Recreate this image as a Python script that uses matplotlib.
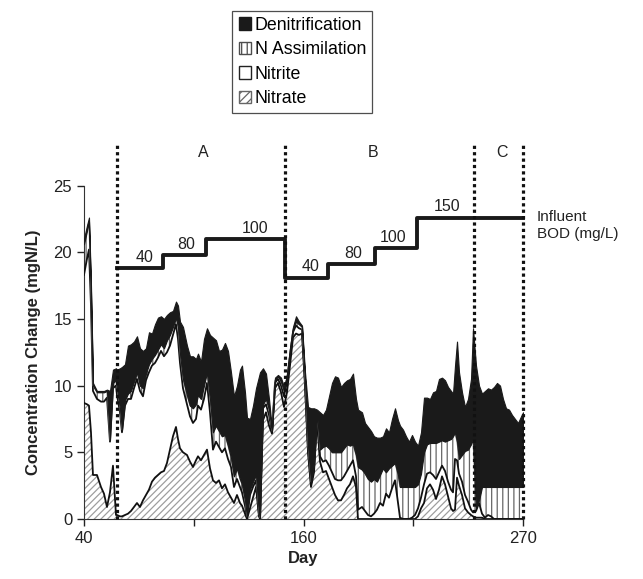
import numpy as np
import matplotlib.pyplot as plt
from matplotlib.patches import Patch

plt.rcParams['font.family'] = ['Liberation Sans', 'DejaVu Sans']
plt.rcParams['hatch.linewidth'] = 0.9

# position along the run (axis spans 0..439, labelled day 40 / 160 / 270)
run_pos = [0, 3, 5, 7, 9, 13, 17, 20, 23, 26, 29, 32, 33, 36, 38, 41, 44, 47, 50, 53,
           56, 59, 62, 65, 68, 71, 74, 77, 80, 83, 86, 89, 92, 94, 96, 99, 103, 106, 109, 112,
           114, 117, 120, 123, 126, 129, 132, 135, 138, 141, 144, 147, 150, 153, 156, 158, 161, 163, 166, 169,
           172, 175, 176, 179, 182, 185, 188, 191, 194, 197, 200, 203, 206, 209, 212, 215, 218, 221, 224, 227,
           230, 233, 236, 239, 242, 245, 248, 251, 254, 257, 260, 263, 266, 269, 272, 274, 278, 281, 284, 287,
           290, 293, 296, 299, 302, 305, 308, 311, 314, 316, 319, 322, 325, 328, 331, 334, 337, 340, 343, 346,
           349, 352, 355, 358, 361, 364, 367, 369, 371, 373, 375, 378, 381, 384, 387, 389, 392, 395, 398, 401,
           404, 407, 410, 413, 416, 419, 422, 425, 428, 431, 434, 437, 439]

# cumulative levels (mgN/L) of the stacked series
nitrate_lvl = [8.7, 8.6, 8.5, 6.5, 3.3, 3.3, 2.4, 1.9, 0.9, 2.0, 4.0, 0.3, 0.3, 0.2, 0.2, 0.3, 0.4, 0.6, 0.9, 1.2,
               0.9, 1.4, 1.8, 2.2, 2.8, 3.1, 3.3, 3.5, 3.6, 4.2, 5.2, 6.2, 6.9, 6.0, 5.3, 5.0, 4.8, 4.3, 3.9, 4.4,
               4.7, 4.4, 4.8, 5.2, 3.8, 2.9, 2.7, 2.9, 2.3, 2.6, 2.0, 1.6, 1.2, 1.8, 1.2, 1.0, 0.4, 0.0, 0.8, 1.6,
               2.4, 0.2, 0.0, 7.4, 8.0, 7.0, 6.4, 9.8, 10.2, 9.5, 8.4, 9.5, 11.5, 13.6, 13.9, 13.8, 13.9, 10.0, 5.0, 2.4,
               3.5, 7.4, 4.3, 3.5, 3.6, 3.0, 2.4, 1.8, 1.4, 1.4, 1.8, 2.3, 2.6, 3.2, 2.4, 0.0, 0.0, 0.0, 0.0, 0.0,
               0.0, 0.0, 0.0, 0.0, 0.0, 0.0, 0.0, 0.0, 0.0, 0.0, 0.0, 0.0, 0.0, 0.0, 0.0, 0.2, 0.8, 1.2, 2.3, 2.6,
               2.2, 1.5, 2.2, 3.2, 2.6, 1.7, 0.8, 0.6, 0.7, 3.1, 2.5, 1.8, 0.8, 0.5, 0.3, 0.2, 0.1, 0.1, 0.1, 0.0,
               0.0, 0.0, 0.0, 0.0, 0.0, 0.0, 0.0, 0.0, 0.0, 0.0, 0.0, 0.0, 0.0]
nitrite_lvl = [18.3, 19.5, 20.2, 16.0, 9.6, 9.0, 8.8, 8.8, 9.1, 5.8, 9.8, 10.0, 9.3, 8.0, 6.5, 8.5, 9.0, 9.0, 9.8, 10.5,
               9.6, 9.2, 10.4, 11.0, 11.5, 11.7, 12.1, 12.6, 12.2, 12.5, 13.0, 13.8, 14.6, 13.5, 11.7, 9.8, 8.6, 7.7, 7.2, 7.5,
               8.5, 8.2, 9.0, 10.2, 8.0, 5.2, 5.8, 5.4, 5.0, 5.3, 4.5, 3.9, 2.4, 3.0, 2.4, 2.0, 1.0, 0.1, 1.8, 2.4,
               2.9, 0.3, 0.1, 8.3, 8.6, 7.8, 6.5, 10.2, 10.5, 10.0, 9.2, 10.3, 12.2, 14.0, 14.5, 14.3, 14.2, 10.3, 5.3, 2.6,
               3.8, 7.7, 4.7, 4.3, 4.4, 4.0, 3.5, 3.0, 2.9, 2.9, 3.2, 3.6, 4.0, 4.4, 3.2, 0.7, 0.9, 0.6, 0.3, 0.2,
               0.4, 0.7, 1.2, 1.0, 1.9, 1.6, 2.3, 2.9, 1.2, 0.1, 0.0, 0.0, 0.0, 0.1, 0.3, 0.8, 1.6, 2.6, 3.4, 3.5,
               3.3, 3.0, 3.5, 4.0, 3.6, 2.8, 2.2, 2.0, 4.5, 4.4, 3.4, 2.8, 1.8, 1.3, 0.7, 0.5, 0.6, 1.2, 0.4, 0.1,
               0.3, 0.2, 0.0, 0.0, 0.0, 0.0, 0.0, 0.0, 0.0, 0.0, 0.0, 0.0, 0.0]
assim_lvl = [20.6, 21.6, 22.3, 17.0, 10.0, 9.5, 9.5, 9.5, 9.6, 5.9, 10.2, 10.4, 9.8, 8.3, 6.7, 8.9, 9.4, 9.6, 10.3, 11.0,
             10.0, 9.8, 10.9, 11.6, 12.0, 12.3, 12.7, 13.1, 12.8, 13.4, 13.8, 14.4, 15.1, 14.4, 12.4, 10.5, 9.3, 8.5, 8.3, 8.6,
             9.3, 9.0, 10.0, 11.0, 9.0, 6.5, 7.0, 6.6, 6.2, 6.3, 5.5, 4.6, 3.2, 3.8, 3.0, 2.6, 1.4, 0.2, 2.2, 2.8,
             3.3, 0.4, 0.1, 8.6, 9.0, 8.2, 6.6, 10.4, 10.7, 10.3, 9.6, 10.6, 12.5, 14.2, 14.8, 14.6, 14.4, 10.5, 5.5, 2.8,
             4.0, 7.9, 5.2, 5.4, 5.5, 5.3, 5.0, 5.0, 5.0, 5.0, 5.3, 5.6, 5.5, 5.6, 4.8, 3.9, 3.7, 3.4, 3.0, 2.8,
             3.0, 2.8, 3.3, 3.8, 3.5, 3.8, 4.0, 4.2, 3.3, 2.4, 2.4, 2.4, 2.4, 2.4, 2.4, 2.6, 3.4, 5.0, 5.6, 5.7,
             5.7, 5.7, 5.8, 5.9, 5.8, 5.9, 6.0, 6.2, 6.5, 5.8, 4.5, 4.8, 5.1, 5.2, 5.6, 6.0, 0.8, 1.4, 2.4, 2.4,
             2.4, 2.4, 2.4, 2.4, 2.4, 2.4, 2.4, 2.4, 2.4, 2.4, 2.4, 2.4, 2.4]
denit_lvl = [21.0, 22.0, 22.6, 17.5, 10.2, 9.6, 9.6, 9.6, 9.7, 9.6, 11.2, 11.3, 11.2, 11.3, 11.4, 11.6, 13.0, 13.1, 13.3, 13.7,
             12.8, 12.6, 12.8, 14.0, 13.9, 14.6, 15.1, 15.2, 15.0, 15.3, 15.5, 15.6, 16.3, 16.0, 14.8, 14.4, 13.0, 12.2, 12.2, 12.0,
             12.4, 11.8, 13.5, 14.3, 13.8, 13.6, 13.4, 12.6, 12.7, 13.2, 12.6, 11.0, 9.2, 10.0, 11.2, 11.5, 9.5, 7.6, 7.5, 8.5,
             9.8, 10.7, 11.0, 11.3, 10.9, 9.0, 6.7, 10.6, 10.8, 10.6, 9.9, 10.8, 12.8, 14.4, 15.2, 14.8, 14.5, 11.0, 8.4, 8.3,
             8.3, 8.2, 8.0, 7.8, 8.2, 9.2, 10.2, 10.7, 10.6, 9.9, 10.2, 10.4, 10.5, 10.9, 9.0, 8.2, 8.0, 7.2, 6.9, 6.6,
             6.2, 6.1, 6.1, 6.2, 6.8, 6.5, 7.5, 8.3, 7.4, 7.0, 6.7, 6.2, 5.8, 6.3, 5.8, 5.5, 6.5, 9.1, 9.1, 9.0,
             9.5, 9.6, 10.5, 10.6, 10.4, 9.9, 9.6, 9.4, 11.5, 13.3, 11.0, 9.5, 8.4, 9.0, 10.5, 14.3, 11.5, 10.0, 9.4, 9.6,
             9.8, 9.7, 9.9, 10.2, 10.0, 9.0, 8.3, 8.2, 7.8, 7.5, 7.2, 7.7, 8.0]

# influent BOD steps
bod_start = [33, 79, 122, 201, 244, 291, 333]
bod_end = 439
bod_level = [18.8, 19.8, 21.0, 18.1, 19.1, 20.3, 22.6]
bod_text = ['40', '80', '100', '40', '80', '100', '150']
bod_text_pos = [61, 102, 171, 227, 269, 309, 363]

phase_bounds = [33, 201, 390, 439]
phase_names = ['A', 'B', 'C']
phase_text_pos = [119, 289, 418]

x = np.array(run_pos, dtype=float)
n_l = np.array(nitrate_lvl)
w_l = np.array(nitrite_lvl)
a_l = np.array(assim_lvl)
d_l = np.array(denit_lvl)

fig = plt.figure(figsize=(6.43, 5.79), dpi=100)
ax = fig.add_axes([0.1306, 0.1036, 0.6828, 0.576])

ax.fill_between(x, 0, n_l, facecolor='white', edgecolor='0.62', hatch='/////', linewidth=0, zorder=2)
ax.fill_between(x, n_l, w_l, facecolor='white', linewidth=0, zorder=2)
ax.fill_between(x, w_l, a_l, facecolor='white', edgecolor='0.4', hatch='|||', linewidth=0, zorder=2)
ax.plot(x, n_l, color='#111111', lw=1.3, zorder=3)
ax.plot(x, w_l, color='#111111', lw=1.3, zorder=3)
ax.plot(x, a_l, color='0.4', lw=0.8, zorder=3)
ax.fill_between(x, a_l, d_l, facecolor='#1a1a1a', edgecolor='#1a1a1a', linewidth=0.8, zorder=4)

# phase boundaries
for p in phase_bounds:
    ax.plot([p, p], [0, 28], color='#111111', lw=2.3, ls=(0, (1, 1)), clip_on=False, zorder=6)
for name, p in zip(phase_names, phase_text_pos):
    ax.text(p, 27.5, name, ha='center', va='center', fontsize=11.5, color='#222222')

# BOD step line
sx = bod_start + [bod_end]
sy = bod_level + [bod_level[-1]]
ax.step(sx, sy, where='post', color='#1a1a1a', lw=2.8, zorder=5, clip_on=False)
for t, p, lvl in zip(bod_text, bod_text_pos, bod_level):
    ax.text(p, lvl + 0.25, t, ha='center', va='bottom', fontsize=11.5, color='#222222')
ax.text(453, 22.0, 'Influent\nBOD (mg/L)', ha='left', va='center', fontsize=11,
        color='#222222', linespacing=1.3)

ax.set_xlim(0, 439)
ax.set_ylim(0, 25)
ax.set_xticks([0, 110, 220, 329, 439])
ax.set_xticklabels(['40', '', '160', '', '270'])
ax.set_yticks([0, 5, 10, 15, 20, 25])
for s in ['top', 'right']:
    ax.spines[s].set_visible(False)
ax.spines['left'].set_color('#333333')
ax.spines['bottom'].set_color('#333333')
ax.tick_params(direction='out', length=5, width=1, labelsize=12, colors='#222222')
ax.set_xlabel('Day', fontsize=12, fontweight='bold', color='#222222', labelpad=4)
ax.set_ylabel('Concentration Change (mgN/L)', fontsize=12, fontweight='bold', color='#222222', labelpad=9)

handles = [
    Patch(facecolor='#1a1a1a', edgecolor='#1a1a1a', label='Denitrification'),
    Patch(facecolor='white', edgecolor='0.3', hatch='|||', label='N Assimilation'),
    Patch(facecolor='white', edgecolor='#222222', label='Nitrite'),
    Patch(facecolor='white', edgecolor='0.4', hatch='////', label='Nitrate'),
]
leg = fig.legend(handles=handles, loc='upper center', bbox_to_anchor=(0.47, 0.997),
                 fontsize=12.8, frameon=True, fancybox=False, edgecolor='#222222',
                 handlelength=0.7, handleheight=0.7, handletextpad=0.2,
                 labelspacing=0.42, borderpad=0.35)
leg.get_frame().set_linewidth(0.9)

fig.savefig('out.png', dpi=100)
